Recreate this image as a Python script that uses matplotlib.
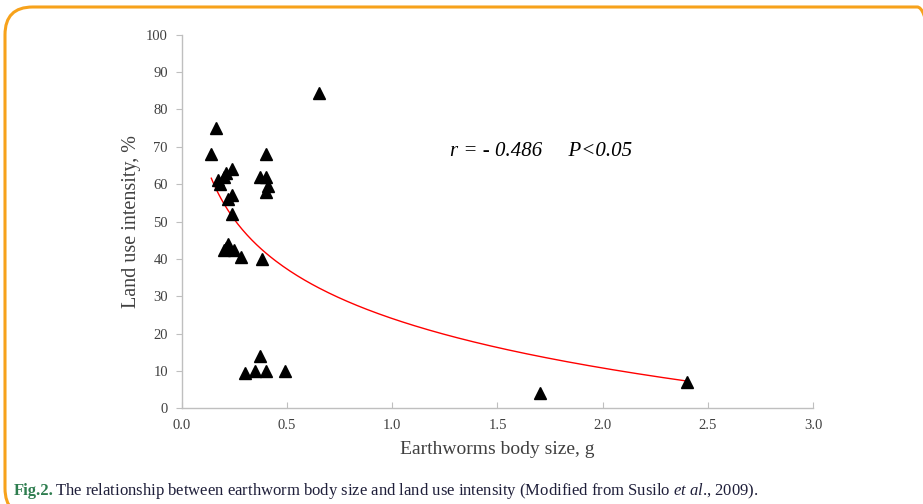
import matplotlib.pyplot as plt
import numpy as np
from matplotlib.patches import FancyBboxPatch

# Data
body_size = [0.65, 0.16, 0.14, 0.40, 0.17, 0.18, 0.20, 0.21, 0.24,
             0.22, 0.24, 0.24, 0.37, 0.40, 0.41, 0.40,
             0.21, 0.20, 0.22, 0.25, 0.28, 0.38,
             0.30, 0.35, 0.37, 0.40, 0.49, 1.70, 2.40]
land_use = [84.5, 75.0, 68.0, 68.0, 61.0, 60.0, 62.0, 63.0, 64.0,
            56.0, 57.0, 52.0, 62.0, 62.0, 59.5, 58.0,
            43.0, 42.5, 44.0, 42.5, 40.5, 40.0,
            9.5, 10.0, 14.0, 10.0, 10.0, 4.0, 7.0]

x_ticks = [0.0, 0.5, 1.0, 1.5, 2.0, 2.5, 3.0]
y_ticks = [0, 10, 20, 30, 40, 50, 60, 70, 80, 90, 100]

plt.rcParams["font.family"] = ["Liberation Serif", "DejaVu Serif"]
plt.rcParams["mathtext.fontset"] = "custom"
plt.rcParams["mathtext.rm"] = "Liberation Serif"
plt.rcParams["mathtext.it"] = "Liberation Serif:italic"

fig = plt.figure(figsize=(9.23, 5.04), dpi=100)
ax = fig.add_axes([0.197, 0.190, 0.684, 0.741])

ax.plot(body_size, land_use, linestyle="none", marker="^", markersize=9,
        color="black", zorder=3)

# logarithmic trendline (Excel-style) fitted to the data
bx = np.array(body_size)
by = np.array(land_use)
b, a = np.polyfit(np.log(bx), by, 1)
xs = np.linspace(bx.min(), bx.max(), 200)
ax.plot(xs, a + b * np.log(xs), color="#ff0000", linewidth=1.0, zorder=2)

ax.set_xlim(0, 3.0)
ax.set_ylim(0, 100)
ax.set_xticks(x_ticks)
ax.set_xticklabels([f"{t:.1f}" for t in x_ticks])
ax.set_yticks(y_ticks)

for side in ("top", "right"):
    ax.spines[side].set_visible(False)
for side in ("left", "bottom"):
    ax.spines[side].set_color("#bfbfbf")
    ax.spines[side].set_linewidth(1.0)

ax.tick_params(axis="x", direction="in", length=4, color="#bfbfbf",
               labelsize=10.5, labelcolor="#404040", pad=8)
ax.tick_params(axis="y", direction="out", length=4, color="#bfbfbf",
               labelsize=10.5, labelcolor="#404040", pad=6)

ax.set_xlabel("Earthworms body size, g", fontsize=14, color="#404040", labelpad=6)
ax.set_ylabel("Land use intensity, %", fontsize=14.5, color="#404040", labelpad=4)

ax.text(0.425, 0.675, "r = - 0.486     P<0.05", transform=ax.transAxes,
        fontsize=15, fontstyle="italic", color="black")

# orange rounded frame around the figure
frame = FancyBboxPatch((5 / 923, -12 / 504), 940 / 923, (504 - 7 + 12) / 504,
                       boxstyle="round,pad=0,rounding_size=0.03",
                       transform=fig.transFigure, facecolor="none",
                       edgecolor="#f7a21b", linewidth=2.2, clip_on=False,
                       mutation_aspect=923 / 504)
fig.patches.append(frame)

fig.text(14 / 923, 1 - 491 / 504, "Fig.2.", fontsize=12, fontweight="bold",
         color="#2e7d4f", va="center")
fig.text(55 / 923, 1 - 491 / 504,
         "The relationship between earthworm body size and land use intensity "
         "(Modified from Susilo $\\mathit{et\\ al}$., 2009).",
         fontsize=12, color="#1f1f3a", va="center")

fig.savefig("out.png", dpi=100)
